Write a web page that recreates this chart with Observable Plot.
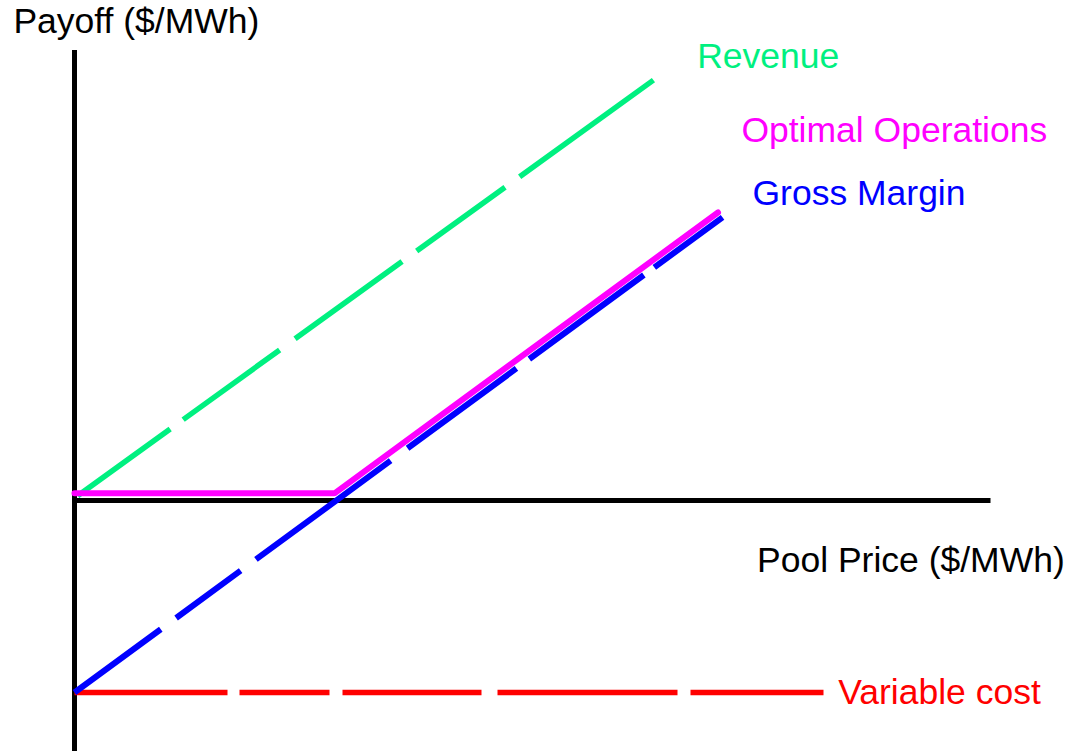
<!DOCTYPE html>
<html><head><meta charset="utf-8">
<script src="https://cdn.jsdelivr.net/npm/d3@7"></script>
<script src="https://cdn.jsdelivr.net/npm/@observablehq/plot@0.6"></script>
<style>body{margin:0;background:#fff}</style>
</head><body><div id="chart"></div>
<script>
// Data (price and payoff in $/MWh units)
const revenueX = [0.5, 89.5];
const revenueY = [1, 88];
const optimalX = [0, 40, 99];
const optimalY = [1.5, 1.5, 60];
const grossX = [0, 99.7];
const grossY = [-40, 59];
const costX = [0, 115.3];
const costY = [-40, -40];

// Axis extents
const yAxisTop = 93.75;
const yAxisBottom = -55;
const xAxisRight = 141;

// Labels
const labelText = ["Payoff ($/MWh)", "Revenue", "Optimal Operations", "Gross Margin", "Pool Price ($/MWh)", "Variable cost"];
const labelX = [-9.4, 95.8, 102.6, 104.3, 105.0, 117.5];
const labelY = [97.3, 90.2, 74.6, 61.5, -14.8, -42.3];
const labelColor = ["#000000", "#00f080", "#ff00ff", "#0000ff", "#000000", "#ff0000"];

const pts = (xs, ys) => xs.map((x, i) => ({x, y: ys[i]}));
const labels = labelText.map((t, i) => ({t, x: labelX[i], y: labelY[i], c: labelColor[i]}));

const chart = Plot.plot({
  width: 1066,
  height: 751,
  marginTop: 0, marginBottom: 0, marginLeft: 0, marginRight: 0,
  x: {domain: [0, 150], range: [74, 1049], axis: null},
  y: {domain: [-50, 100], range: [740, 20], axis: null},
  color: {type: "identity"},
  style: {background: "white", fontFamily: "Liberation Sans, Arial, sans-serif"},
  marks: [
    Plot.ruleX([0], {y1: yAxisBottom, y2: yAxisTop, stroke: "black", strokeWidth: 5}),
    Plot.ruleY([0], {x1: 0, x2: xAxisRight, stroke: "black", strokeWidth: 5}),
    Plot.line(pts(costX, costY), {x: "x", y: "y", stroke: "#ff0000", strokeWidth: 5.5,
      strokeDasharray: "153,12,90,13,139,16,180,13,133,2000", strokeLinecap: "butt"}),
    Plot.line(pts(revenueX, revenueY), {x: "x", y: "y", stroke: "#00f080", strokeWidth: 5.5,
      strokeDasharray: "114,16,119,19,132,18,109,18,165,2000", strokeLinecap: "butt"}),
    Plot.line(pts(grossX, grossY), {x: "x", y: "y", stroke: "#0000ff", strokeWidth: 6,
      strokeDasharray: "107,19,80,19,167,21,135,16,142,13,86,2000", strokeLinecap: "butt"}),
    Plot.line(pts(optimalX, optimalY), {x: "x", y: "y", stroke: "#ff00ff", strokeWidth: 6,
      strokeLinecap: "round", strokeLinejoin: "miter"}),
    Plot.text(labels, {x: "x", y: "y", text: "t", fill: "c", textAnchor: "start", lineAnchor: "bottom",
      fontSize: 35.5, fontFamily: "Liberation Sans, Arial, sans-serif"})
  ]
});
document.getElementById("chart").appendChild(chart);
</script>
</body></html>
